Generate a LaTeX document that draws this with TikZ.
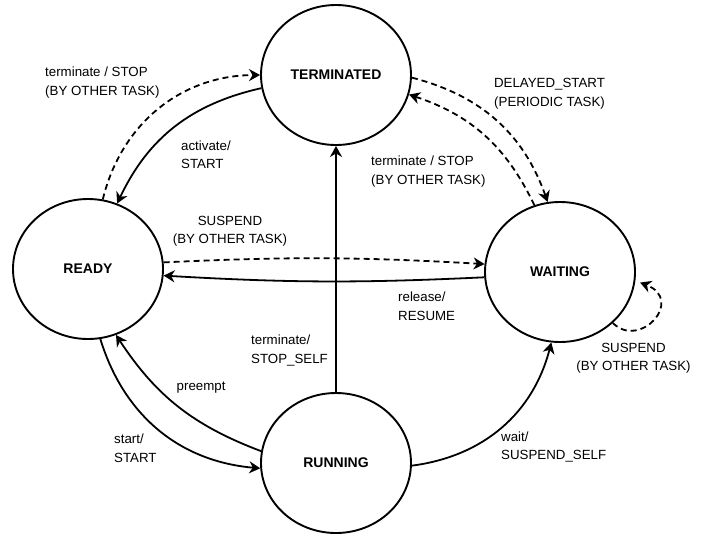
\documentclass[tikz,border=0pt]{standalone}
\usepackage{fontspec}
\setmainfont{Liberation Sans}
\usetikzlibrary{arrows.meta,shapes.geometric}
\begin{document}
\begin{tikzpicture}[x=1pt,y=1pt,
  state/.style={ellipse, draw, line width=1.9pt, minimum width=150pt, minimum height=140pt, inner sep=0pt, font=\fontsize{14}{16}\selectfont\bfseries},
  lbl/.style={inner sep=0pt, font=\fontsize{13.3}{18.5}\selectfont},
  edge/.style={line width=1.8pt, -{Stealth[length=11pt,width=12pt,inset=3.5pt]}},
  dashededge/.style={edge, dash pattern=on 6pt off 4pt}
]
\useasboundingbox (0,0) rectangle (711,-536);
\node[state] (T) at (336,-75) {TERMINATED};
\node[state] (R) at (88,-269) {READY};
\node[state] (W) at (560,-272) {WAITING};
\node[state] (U) at (336,-463) {RUNNING};

\draw[edge] (T.190) to[bend right=26] (R.66);
\draw[dashededge] (R.78) to[bend left=38] (T.180);
\draw[dashededge] (T.358) to[bend left=28] (W.100);
\draw[dashededge] (W.111) to[bend right=23] (T.345);
\draw[dashededge] (R.5) to[bend left=3] (W.174);
\draw[edge] (W.184) to[bend left=3] (R.355);
\draw[edge] (U.90) -- (T.270);
\draw[edge] (R.280) to[bend right=34] (U.184);
\draw[edge] (U.171) to[bend left=18] (R.293);
\draw[edge] (U.358) to[bend right=34] (W.263);
\draw[dashededge] (W.316) .. controls (640,-350) and (685,-300) .. ([xshift=5pt]W.352);

\node[lbl, anchor=west, align=left] (l1) at (45,-82.5) {terminate / STOP\\(BY OTHER TASK)};
\node[lbl, anchor=west, align=left] (l2) at (181,-154.5) {activate/\\START};
\node[lbl, align=center] (l3) at (549.5,-93.5) {DELAYED\_START\\(PERIODIC TASK)};
\node[lbl, anchor=west, align=left] (l4) at (371,-171.5) {terminate / STOP\\(BY OTHER TASK)};
\node[lbl, align=center] (l5) at (230,-231) {SUSPEND\\(BY OTHER TASK)};
\node[lbl, anchor=west, align=left] (l6) at (398,-306) {release/\\RESUME};
\node[lbl, anchor=west, align=left] (l7) at (251,-350.5) {terminate/\\STOP\_SELF};
\node[lbl, anchor=west] (l8) at (176.5,-388) {preempt};
\node[lbl, anchor=west, align=left] (l9) at (114,-448) {start/\\START};
\node[lbl, anchor=west, align=left] (l10) at (501,-447) {wait/\\SUSPEND\_SELF};
\node[lbl, align=center] (l11) at (633.5,-358) {SUSPEND\\(BY OTHER TASK)};
\end{tikzpicture}
\end{document}
